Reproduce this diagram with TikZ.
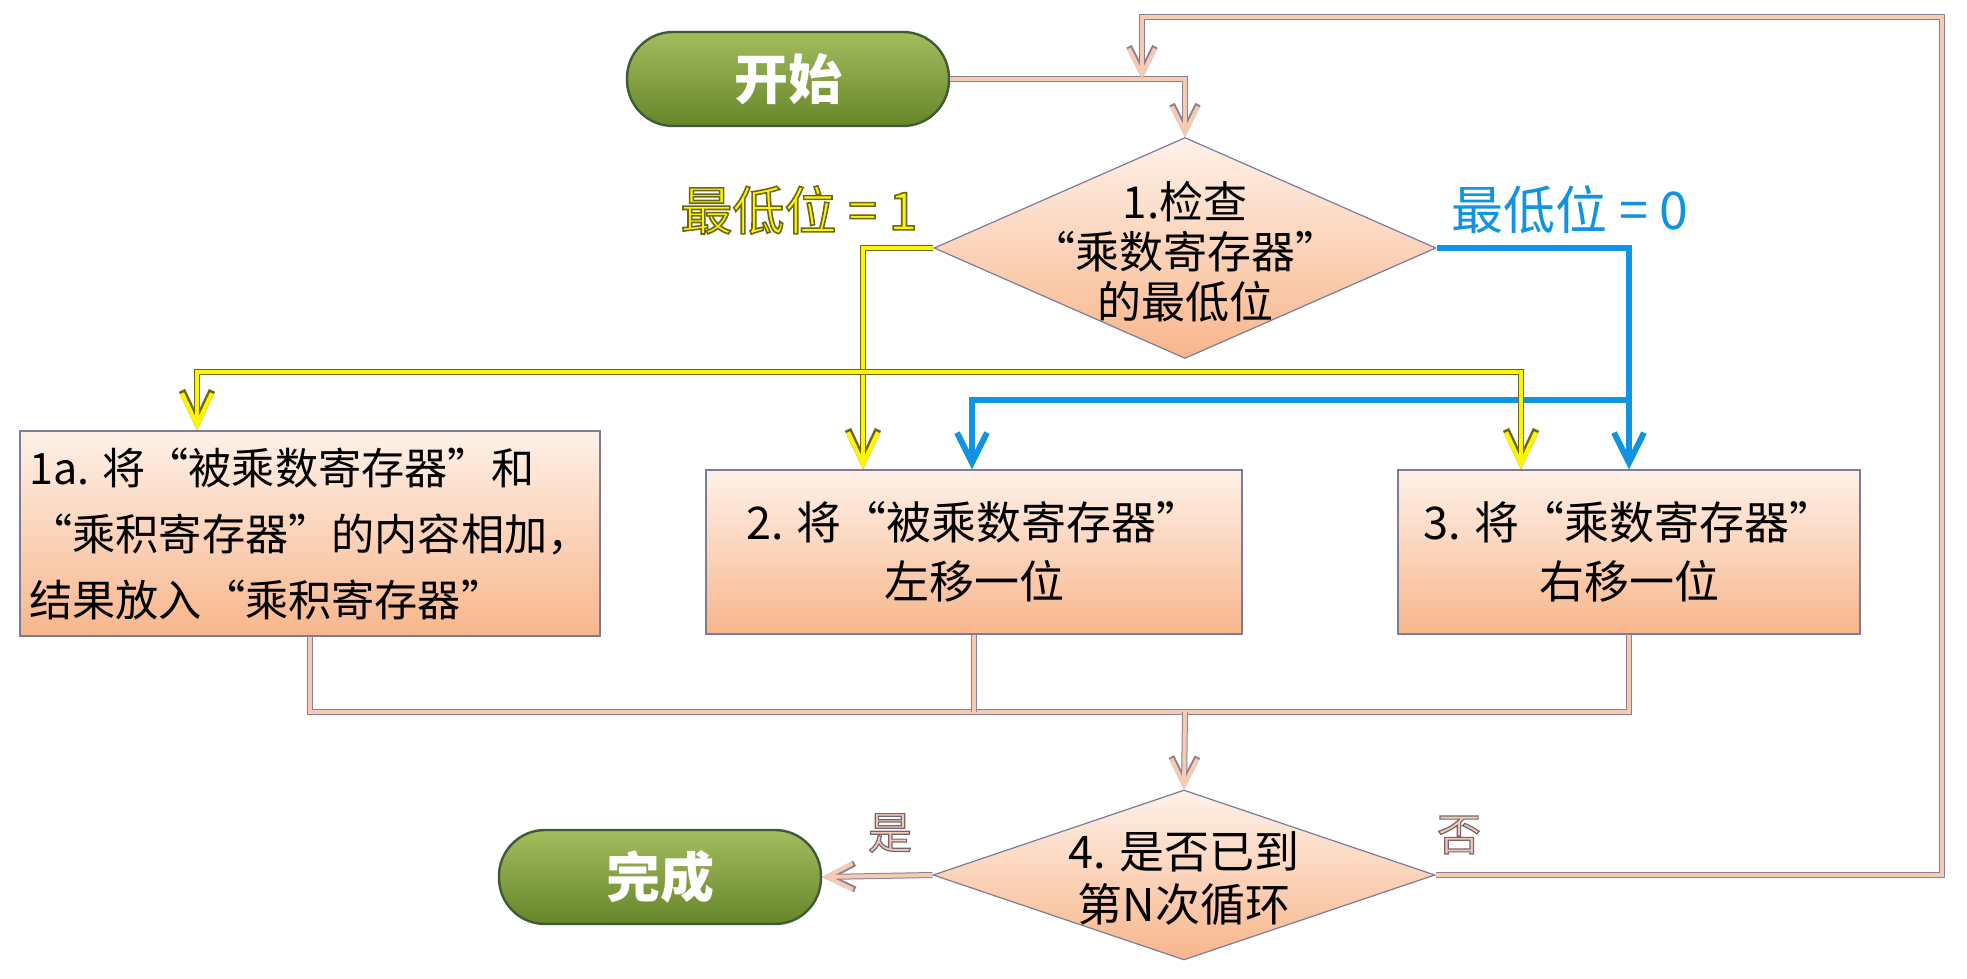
\documentclass[tikz,border=0pt]{standalone}
\usepackage{fontspec}
\setmainfont{Noto Sans CJK SC}
\usetikzlibrary{arrows.meta,shapes.geometric}

\definecolor{pilltop}{HTML}{A3BC5E}
\definecolor{pillbot}{HTML}{66862A}
\definecolor{pillline}{HTML}{3F5A36}
\definecolor{peachtop}{HTML}{FEF1E8}
\definecolor{peachbot}{HTML}{F8B68C}
\definecolor{boxline}{HTML}{7C7C98}
\definecolor{linein}{HTML}{F6CBB2}
\definecolor{lineout}{HTML}{8E7E98}
\definecolor{yelin}{HTML}{FFF500}
\definecolor{yelout}{HTML}{6A6612}
\definecolor{bluecol}{HTML}{1093E2}

% outlined text: filled in the current colour, stroked with rgb #1 at width #2 (bp)
\newcommand{\outl}[3]{\special{pdf:literal direct 2 Tr #2 w #1 RG}#3\special{pdf:literal direct 0 Tr}}

\begin{document}
\begin{tikzpicture}[x=0.5pt,y=-0.5pt,
  pill/.style={rectangle, rounded corners=23pt, draw=pillline, line width=1.2pt,
    top color=pilltop, bottom color=pillbot, text=white,
    minimum width=161pt, minimum height=47pt,
    font=\fontsize{27}{30}\selectfont\bfseries},
  procbox/.style={rectangle, draw=boxline, line width=0.6pt,
    top color=peachtop, bottom color=peachbot, align=center,
    font=\fontsize{22.5}{29.5}\selectfont},
  decision/.style={diamond, draw=boxline, line width=0.6pt, inner sep=0pt,
    top color=peachtop, bottom color=peachbot},
  dtext/.style={align=center, inner sep=0pt},
  conn/.style={draw=linein, line width=2pt,
    preaction={draw=lineout, line width=3pt},
    arrows={-Straight Barb[length=13pt,width=13pt]}},
  yel/.style={draw=yelin, line width=2.2pt,
    preaction={draw=yelout, line width=3.4pt},
    arrows={Straight Barb[length=16pt,width=15pt]-Straight Barb[length=16pt,width=15pt]}},
  blu/.style={draw=bluecol, line width=3pt,
    arrows={-Straight Barb[length=15pt,width=15pt]}},
]
\useasboundingbox (0,0) rectangle (1967,979);

% nodes
\node[pill] (start) at (788,79) {开始};
\node[decision, minimum width=251pt, minimum height=110.5pt] (d1) at (1185,248) {};
\node[dtext, font=\fontsize{22}{25}\selectfont] (d1t) at (1185,252) {1.检查\\“乘数寄存器”\\的最低位};

\node[procbox, minimum width=290pt, minimum height=102.5pt, align=left, inner sep=4pt,
      font=\fontsize{21.6}{33}\selectfont] (b1) at (310,533.5)
  {1a. 将“被乘数寄存器”和\\“乘积寄存器”的内容相加，\\结果放入“乘积寄存器”};
\node[procbox, minimum width=268pt, minimum height=82pt] (b2) at (974,552)
  {2. 将“被乘数寄存器”\\左移一位};
\node[procbox, minimum width=231pt, minimum height=82pt] (b3) at (1629,552)
  {3. 将“乘数寄存器”\\右移一位};

\node[decision, minimum width=251pt, minimum height=85pt] (d4) at (1184,875) {};
\node[dtext, font=\fontsize{22.5}{26.5}\selectfont] (d4t) at (1184,878) {4. 是否已到\\第N次循环};
\node[pill] (done) at (660,877) {完成};

% branch labels
\node[text=yelin, font=\fontsize{26}{28}\selectfont] (lab1) at (799,210)
  {\outl{0.42 0.40 0.07}{0.8}{最低位 = 1}};
\node[text=bluecol, font=\fontsize{26}{28}\selectfont] (lab0) at (1570,210) {最低位 = 0};
\node[text=linein, font=\fontsize{22}{24}\selectfont] (yes) at (890,833)
  {\outl{0.45 0.40 0.45}{0.6}{是}};
\node[text=linein, font=\fontsize{22}{24}\selectfont] (no) at (1459,835)
  {\outl{0.45 0.40 0.45}{0.6}{否}};

% junction points
\coordinate (merge) at (1142,79);
\coordinate (loopR) at (1942,17);
\coordinate (yA) at (863,372);
\coordinate (yL) at (197,372);
\coordinate (yR) at (1521,372);
\coordinate (bA) at (1629,400);
\coordinate (bB) at (972,400);
\coordinate (m) at (1185,712);

% main flow
\draw[conn] (start.east) -| (d1.north);
\draw[conn] (d4.east) -| (loopR) -| (merge);

% bit = 0 branch
\draw[blu] (d1.east) -| (b3.north);
\draw[blu] (bA) -- (bB) -- (bB |- b2.north);

% bit = 1 branch
\draw[yel, arrows={-Straight Barb[length=16pt,width=15pt]}] (d1.west) -| (yA |- b2.north);
\draw[yel] (yL |- b1.north) -- (yL) -- (yR) -- (yR |- b3.north);

% gather into step 4
\draw[conn, arrows=-] (b1.south) |- (m) -| (b3.south);
\draw[conn, arrows=-] (b2.south) -- (b2.south |- m);
\draw[conn] (m) -- (d4.north);
\draw[conn] (d4.west) -- (done.east);
\end{tikzpicture}
\end{document}
